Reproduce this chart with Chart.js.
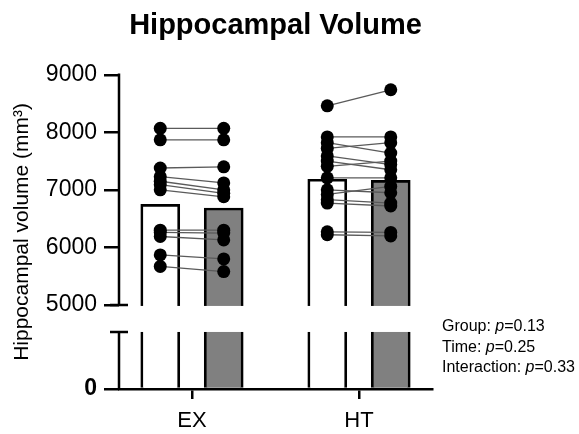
<!DOCTYPE html>
<html>
<head>
<meta charset="utf-8">
<script src="https://cdn.jsdelivr.net/npm/chart.js@4/dist/chart.umd.min.js"></script>
<style>
  html, body { margin: 0; padding: 0; background: #fff; }
  #wrap { width: 579px; height: 434px; }
</style>
</head>
<body>
<div id="wrap"><canvas id="c" width="579" height="434"></canvas></div>
<script>
// Groups on the x axis
const GROUPS = ['EX', 'HT'];

// Bar heights (group means), pre = white bars, post = grey bars
const PRE_MEANS = [6750, 7185];
const POST_MEANS = [6685, 7165];

// Individual paired measurements (mm³)
const EX_PRE  = [8070, 7870, 7380, 7230, 7150, 7090, 7000, 6300, 6260, 6190, 5870, 5670];
const EX_POST = [8070, 7870, 7400, 7120, 7000, 6940, 6880, 6300, 6250, 6130, 5800, 5580];
const HT_PRE  = [8460, 7920, 7820, 7720, 7590, 7500, 7410, 7210, 7000, 6920, 6830, 6770, 6270, 6220];
const HT_POST = [8740, 7920, 7640, 7820, 7440, 7350, 7500, 7210, 6950, 7060, 6770, 6720, 6260, 6200];

// Y axis tick values
const Y_TICKS = [0, 5000, 6000, 7000, 8000, 9000];

// Statistics annotation: [prefix, italic symbol, value]
const STATS = [
  ['Group: ', 'p', '=0.13'],
  ['Time: ', 'p', '=0.25'],
  ['Interaction: ', 'p', '=0.33']
];

const FONT = "'Liberation Sans', Arial, Helvetica, sans-serif";
const PAIR_OFFSET = 0.19;   // distance of each bar from its group centre (x units)

// Axis break: 0–1000 at the bottom, 5000–9000 above, blank gap between
const BREAK = { low: 1000, high: 5000, lowFrac: 57 / 314, gapFrac: 27 / 314 };

class BrokenLinearScale extends Chart.LinearScale {
  _fraction(v) {
    const b = BREAK;
    const upFrac = 1 - b.lowFrac - b.gapFrac;
    if (v <= b.low) return (v - this.min) / (b.low - this.min) * b.lowFrac;
    if (v < b.high) return b.lowFrac + (v - b.low) / (b.high - b.low) * b.gapFrac;
    return b.lowFrac + b.gapFrac + (v - b.high) / (this.max - b.high) * upFrac;
  }
  getPixelForValue(v) {
    if (v === null || v === undefined || isNaN(v)) return NaN;
    return this.getPixelForDecimal(this._fraction(v));
  }
  getValueForPixel(p) {
    const b = BREAK;
    const f = this.getDecimalForPixel(p);
    const upFrac = 1 - b.lowFrac - b.gapFrac;
    if (f <= b.lowFrac) return this.min + f / b.lowFrac * (b.low - this.min);
    if (f < b.lowFrac + b.gapFrac) return b.low + (f - b.lowFrac) / b.gapFrac * (b.high - b.low);
    return b.high + (f - b.lowFrac - b.gapFrac) / upFrac * (this.max - b.high);
  }
}
BrokenLinearScale.id = 'brokenLinear';
BrokenLinearScale.defaults = Chart.LinearScale.defaults;
Chart.register(BrokenLinearScale);

// Build the paired data from the arrays above
const pairs = [[EX_PRE, EX_POST], [HT_PRE, HT_POST]];
const lineSets = [];
const prePoints = [];
const postPoints = [];
pairs.forEach(([pre, post], g) => {
  pre.forEach((v, i) => {
    const a = { x: g - PAIR_OFFSET, y: v };
    const b = { x: g + PAIR_OFFSET, y: post[i] };
    prePoints.push(a);
    postPoints.push(b);
    lineSets.push({
      type: 'line',
      data: [a, b],
      borderColor: '#5a5a5a',
      borderWidth: 1.3,
      pointRadius: 0,
      showLine: true,
      fill: false,
      order: 1
    });
  });
});

const barStyle = {
  type: 'bar',
  grouped: false,
  barThickness: 39,
  borderColor: '#000',
  borderWidth: 2.7,
  borderSkipped: 'start',
  order: 2
};

const datasets = [
  Object.assign({}, barStyle, {
    data: PRE_MEANS.map((v, g) => ({ x: g - PAIR_OFFSET, y: v })),
    backgroundColor: '#ffffff'
  }),
  Object.assign({}, barStyle, {
    data: POST_MEANS.map((v, g) => ({ x: g + PAIR_OFFSET, y: v })),
    backgroundColor: '#808080'
  }),
  ...lineSets,
  {
    type: 'scatter', data: prePoints, pointRadius: 6.5,
    pointBackgroundColor: '#000', pointBorderWidth: 0, order: 0
  },
  {
    type: 'scatter', data: postPoints, pointRadius: 6.5,
    pointBackgroundColor: '#000', pointBorderWidth: 0, order: 0
  }
];

// White background, blank break band, broken y axis line and the stats text
const decorations = {
  id: 'decorations',
  beforeDraw(chart) {
    const ctx = chart.ctx;
    ctx.save();
    ctx.fillStyle = '#fff';
    ctx.fillRect(0, 0, chart.width, chart.height);
    ctx.restore();
  },
  afterDatasetsDraw(chart) {
    const ctx = chart.ctx;
    const y = chart.scales.y;
    const area = chart.chartArea;
    const yHigh = y.getPixelForValue(BREAK.high);
    const yLow = y.getPixelForValue(BREAK.low);
    ctx.save();
    ctx.fillStyle = '#fff';
    ctx.fillRect(area.left + 2, yHigh + 1, area.right - area.left, yLow - yHigh - 1);

    const x0 = area.left;
    ctx.strokeStyle = '#000';
    ctx.lineWidth = 2.5;
    ctx.lineCap = 'butt';
    ctx.beginPath();
    // upper segment
    ctx.moveTo(x0, y.getPixelForValue(y.max) - 1.25);
    ctx.lineTo(x0, yHigh);
    ctx.moveTo(x0 - 9, yHigh);
    ctx.lineTo(x0 + 9, yHigh);
    // lower segment
    ctx.moveTo(x0, y.getPixelForValue(0));
    ctx.lineTo(x0, yLow);
    ctx.moveTo(x0 - 9, yLow);
    ctx.lineTo(x0 + 9, yLow);
    ctx.stroke();
    ctx.restore();
  },
  afterDraw(chart) {
    const ctx = chart.ctx;
    ctx.save();
    ctx.fillStyle = '#000';
    ctx.textBaseline = 'middle';
    const x = 442;
    STATS.forEach((parts, i) => {
      const yy = 327 + i * 20.5;
      let cx = x;
      ctx.font = `16px ${FONT}`;
      ctx.fillText(parts[0], cx, yy);
      cx += ctx.measureText(parts[0]).width;
      ctx.font = `italic 16px ${FONT}`;
      ctx.fillText(parts[1], cx, yy);
      cx += ctx.measureText(parts[1]).width;
      ctx.font = `16px ${FONT}`;
      ctx.fillText(parts[2], cx, yy);
    });
    ctx.restore();
  }
};

new Chart(document.getElementById('c'), {
  type: 'bar',
  data: { datasets },
  plugins: [decorations],
  options: {
    responsive: false,
    animation: false,
    devicePixelRatio: 1,
    layout: { padding: { left: 0, right: 147, top: 0, bottom: 0 } },
    plugins: {
      legend: { display: false },
      tooltip: { enabled: false },
      title: {
        display: true,
        fullSize: false,
        text: 'Hippocampal Volume',
        color: '#000',
        font: { family: FONT, size: 29, weight: 'bold' },
        padding: { top: 9, bottom: 31 }
      }
    },
    scales: {
      x: {
        type: 'linear',
        offset: false,
        min: -0.437,
        max: 1.437,
        afterBuildTicks: s => { s.ticks = GROUPS.map((_, i) => ({ value: i })); },
        afterFit: s => { s.height = 45; },
        ticks: {
          autoSkip: false,
          color: '#000',
          padding: 9,
          font: { family: FONT, size: 22 },
          callback: v => GROUPS[v]
        },
        grid: {
          offset: false,
          drawOnChartArea: false,
          drawTicks: true,
          tickLength: 10,
          color: '#000',
          lineWidth: 2.5
        },
        border: { display: true, color: '#000', width: 2.5 }
      },
      y: {
        type: 'brokenLinear',
        min: 0,
        max: 9000,
        afterBuildTicks: s => { s.ticks = Y_TICKS.map(v => ({ value: v })); },
        afterFit: s => { s.width = 119; },
        ticks: {
          autoSkip: false,
          color: '#000',
          padding: 7,
          font: ctx => ({
            family: FONT,
            size: 23,
            weight: ctx.tick && ctx.tick.value === 0 ? 'bold' : 'normal'
          }),
          callback: v => String(v)
        },
        grid: {
          drawOnChartArea: false,
          drawTicks: true,
          tickLength: 15,
          color: '#000',
          lineWidth: 2.5
        },
        border: { display: false },
        title: {
          display: true,
          text: 'Hippocampal volume (mm³)',
          color: '#000',
          font: { family: FONT, size: 21 },
          padding: { top: 10, bottom: 0 }
        }
      }
    }
  }
});
</script>
</body>
</html>
